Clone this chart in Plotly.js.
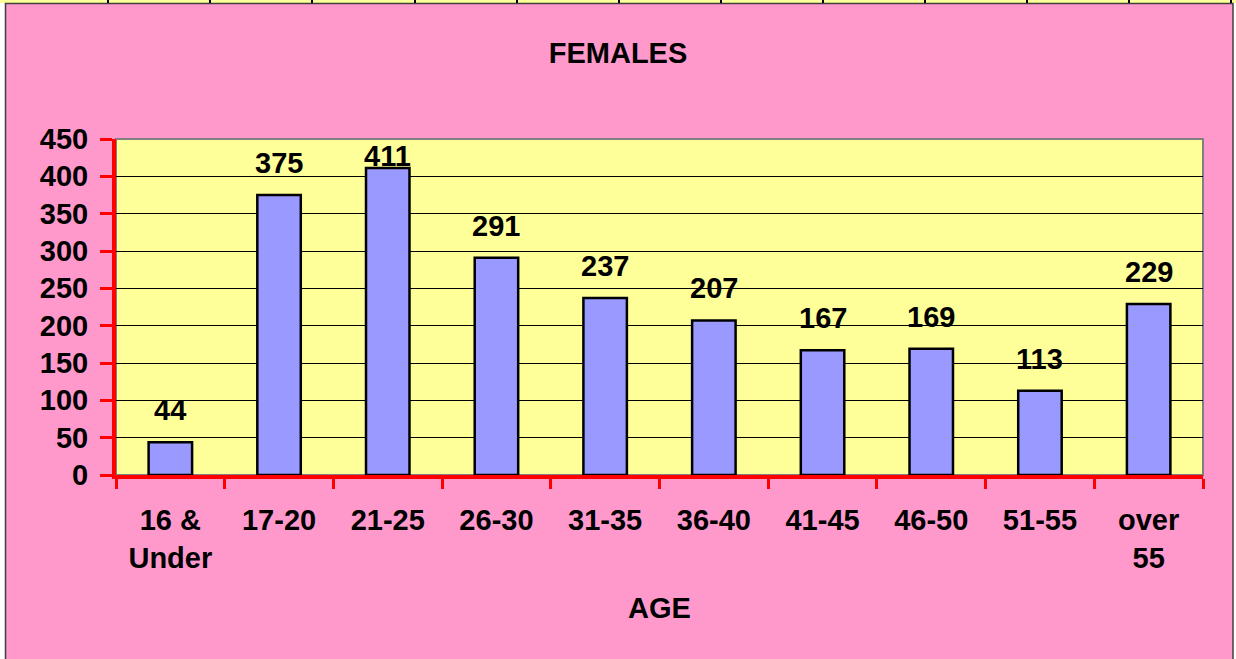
<!DOCTYPE html>
<html>
<head>
<meta charset="utf-8">
<script src="https://cdn.plot.ly/plotly-3.0.1.min.js"></script>
<style>
  html, body { margin: 0; padding: 0; background: #ffffff; }
  #chart { width: 1236px; height: 659px; }
</style>
</head>
<body>
<div id="chart"></div>
<script>
// Females by age group
var ageGroups = ["16 &<br>Under", "17-20", "21-25", "26-30", "31-35", "36-40", "41-45", "46-50", "51-55", "over<br>55"];
var femaleCounts = [44, 375, 411, 291, 237, 207, 167, 169, 113, 229];
var yTicks = [0, 50, 100, 150, 200, 250, 300, 350, 400, 450];

var labelFont = { family: "Liberation Sans, Arial, sans-serif", size: 29, color: "#000000", weight: "bold" };

// plot area in pixels, used only for the decorations around the chart
var L = 116, R = 33, T = 139, B = 184, W = 1236, H = 659;
var pw = W - L - R, ph = H - T - B;
function px(x) { return (x - L) / pw; }
function py(y) { return (H - B - y) / ph; }

var trace = {
  x: ageGroups,
  y: femaleCounts,
  type: "bar",
  width: 0.4,
  marker: { color: "#9999FF", line: { color: "#000000", width: 2.5 } },
  hoverinfo: "x+y"
};

// value labels sit above each bar, kept inside the top of the plot
var labels = femaleCounts.map(function (v, i) {
  return {
    x: ageGroups[i],
    y: Math.min(v + 43, 427),
    text: String(v),
    showarrow: false,
    yanchor: "middle",
    font: labelFont
  };
});
labels.push({
  xref: "paper", yref: "paper", x: 0.5, y: py(608),
  text: "AGE", showarrow: false, yanchor: "middle", font: labelFont
});

var shapes = [
  // plot frame (gray top and right)
  { type: "rect", xref: "paper", yref: "paper", x0: 0, x1: 1, y0: 0, y1: 1,
    line: { color: "#808080", width: 2 }, layer: "below" },
  // white margins outside the chart border
  { type: "rect", xref: "paper", yref: "paper", x0: px(0), x1: px(5), y0: py(H), y1: py(0),
    fillcolor: "#ffffff", line: { width: 0 } },
  { type: "rect", xref: "paper", yref: "paper", x0: px(1233), x1: px(W), y0: py(H), y1: py(0),
    fillcolor: "#ffffff", line: { width: 0 } },
  // yellow strip of spreadsheet cells at the top
  { type: "rect", xref: "paper", yref: "paper", x0: px(0), x1: px(W), y0: py(3), y1: py(0),
    fillcolor: "#FFFF99", line: { width: 0 } },
  // chart border
  { type: "rect", xref: "paper", yref: "paper", x0: px(5.5), x1: px(1233), y0: py(H + 5), y1: py(3.5),
    line: { color: "#404040", width: 1.5 } }
];
var cellEdges = [108, 210, 312, 415, 517, 619, 721, 823, 925, 1027, 1129, 1231];
cellEdges.forEach(function (e) {
  shapes.push({ type: "line", xref: "paper", yref: "paper", x0: px(e), x1: px(e), y0: py(3), y1: py(0),
    line: { color: "#000000", width: 2 } });
});

var layout = {
  width: W,
  height: H,
  margin: { l: L, r: R, t: T, b: B },
  paper_bgcolor: "#FF99CC",
  plot_bgcolor: "#FFFF99",
  showlegend: false,
  title: {
    text: "FEMALES",
    font: labelFont,
    x: 0.5, xref: "container",
    y: 1 - 53 / H, yanchor: "middle"
  },
  xaxis: {
    type: "category",
    tickfont: labelFont,
    showline: true, linecolor: "#FF0000", linewidth: 4,
    ticks: "outside", tickson: "boundaries", ticklen: 10, tickwidth: 3, tickcolor: "#FF0000",
    ticklabelstandoff: 16,
    showgrid: false,
    fixedrange: true
  },
  yaxis: {
    range: [0, 450],
    tickvals: yTicks,
    tickfont: labelFont,
    showline: true, linecolor: "#FF0000", linewidth: 4,
    ticks: "outside", ticklen: 12, tickwidth: 3, tickcolor: "#FF0000",
    ticklabelstandoff: 6,
    showgrid: true, gridcolor: "#000000", gridwidth: 1,
    zeroline: false,
    fixedrange: true
  },
  annotations: labels,
  shapes: shapes
};

Plotly.newPlot("chart", [trace], layout, { displayModeBar: false, staticPlot: true });
</script>
</body>
</html>
